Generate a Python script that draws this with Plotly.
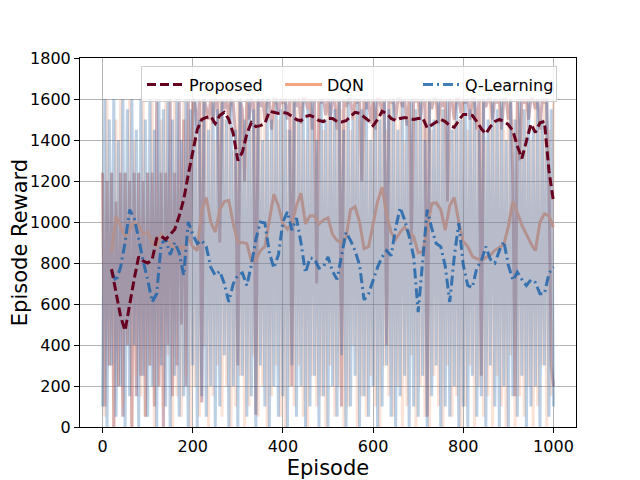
import plotly.graph_objects as go

# ---------------- data ----------------
raw_episodes = list(range(0, 1001, 5))

proposed_raw = [
    1240, 100, 1200, 300, 1240, 0, 1100, 200, 1240, 50, 1240, 400, 1200, 0, 1240, 150, 1240, 250, 1200, 50,
    1240, 300, 1240, 100, 1600, 200, 1240, 0, 1240, 400, 1600, 150, 1240, 300, 1600, 500, 1500, 200, 1600, 900,
    1600, 1580, 1450, 1600, 120, 1600, 1560, 1500, 1600, 1480, 1600, 1590, 900, 1600, 1550, 1600, 1500, 1600, 1580, 1420,
    300, 1600, 1550, 1200, 1600, 1500, 1600, 1580, 60, 1600, 1560, 1600, 1500, 1600, 1590, 1450, 1600, 1600, 1530, 1600,
    1580, 1600, 1500, 1600, 200, 1600, 1560, 1600, 1480, 1600, 1600, 1550, 1600, 1450, 1600, 700, 1600, 1580, 1600, 1520,
    1600, 1500, 1600, 1590, 1450, 1600, 100, 1600, 1560, 1600, 1600, 1500, 1600, 1580, 1600, 1200, 1600, 1550, 1600, 1480,
    1600, 1450, 1600, 1600, 1520, 1600, 400, 1600, 1580, 1600, 1500, 1600, 1600, 1560, 1600, 1470, 1600, 900, 1600, 1590,
    1600, 1500, 1600, 1580, 50, 1600, 1550, 1600, 1600, 1480, 1600, 1560, 1600, 1100, 1600, 1590, 1500, 1600, 1600, 1530,
    1600, 1580, 1600, 1500, 1600, 1600, 1450, 1600, 250, 1600, 1560, 1600, 1600, 1500, 1600, 1580, 1600, 1450, 1600, 1600,
    1500, 1600, 1200, 150, 1600, 1300, 1600, 1580, 1600, 1500, 1600, 1600, 1550, 1600, 1450, 1600, 1580, 1600, 1200, 300,
    200,
]

dqn_raw = [
    1240, 50, 1600, 300, 1240, 0, 1500, 200, 1600, 100, 1240, 400, 1600, 0, 1400, 250, 1240, 150, 1600, 50,
    1240, 300, 1600, 0, 1240, 200, 1500, 100, 1600, 350, 1240, 0, 1600, 150, 1300, 50, 1600, 250, 1500, 0,
    1600, 200, 1450, 50, 1600, 400, 1550, 0, 1600, 150, 1400, 300, 1600, 50, 1500, 200, 1600, 0, 1350, 100,
    1600, 250, 1500, 0, 1600, 100, 1450, 350, 1600, 50, 1550, 200, 1600, 0, 1400, 150, 1600, 300, 1500, 50,
    1600, 0, 1450, 200, 1600, 100, 1550, 300, 1600, 50, 1400, 0, 1600, 250, 1500, 100, 1600, 150, 1450, 0,
    1600, 300, 1500, 50, 1600, 200, 1550, 0, 1600, 100, 1450, 400, 1600, 0, 1500, 150, 1600, 50, 1400, 250,
    1600, 100, 1550, 0, 1600, 300, 1450, 150, 1600, 50, 1500, 200, 1600, 0, 1400, 100, 1600, 350, 1550, 0,
    1600, 200, 1500, 50, 1600, 0, 1450, 250, 1600, 100, 1550, 0, 1600, 300, 1400, 50, 1600, 150, 1500, 0,
    1600, 100, 1450, 300, 1600, 0, 1550, 200, 1600, 50, 1400, 150, 1600, 0, 1500, 250, 1600, 100, 1450, 0,
    1600, 350, 1500, 0, 1600, 150, 1550, 50, 1600, 200, 1400, 0, 1600, 100, 1500, 300, 1600, 0, 1450, 150,
    1600,
]

ql_raw = [
    100, 1600, 0, 1500, 300, 1600, 50, 1400, 200, 1600, 0, 1550, 150, 1600, 400, 1450, 0, 1600, 250, 1500,
    50, 1600, 200, 1450, 0, 1600, 300, 1550, 100, 1600, 0, 1500, 250, 1600, 50, 1400, 150, 1600, 0, 1550,
    300, 1600, 0, 1500, 150, 1600, 50, 1450, 200, 1600, 0, 1550, 100, 1600, 350, 1500, 0, 1600, 200, 1450,
    0, 1600, 250, 1500, 50, 1600, 150, 1550, 0, 1600, 300, 1400, 100, 1600, 0, 1500, 200, 1600, 50, 1550,
    150, 1600, 0, 1450, 300, 1600, 50, 1500, 200, 1600, 0, 1550, 100, 1600, 250, 1400, 0, 1600, 150, 1500,
    0, 1600, 200, 1550, 50, 1600, 350, 1450, 0, 1600, 100, 1500, 250, 1600, 0, 1550, 150, 1600, 50, 1400,
    200, 1600, 0, 1500, 100, 1600, 300, 1550, 50, 1600, 0, 1450, 150, 1600, 250, 1500, 0, 1600, 100, 1550,
    50, 1600, 250, 1400, 0, 1600, 150, 1500, 300, 1600, 0, 1550, 100, 1600, 50, 1450, 200, 1600, 0, 1500,
    100, 1600, 0, 1550, 250, 1600, 50, 1450, 150, 1600, 0, 1500, 300, 1600, 100, 1550, 0, 1600, 200, 1400,
    0, 1600, 150, 1500, 50, 1600, 250, 1550, 0, 1600, 100, 1450, 200, 1600, 0, 1500, 300, 1600, 50, 1550,
    100,
]

smooth_episodes = list(range(20, 1001, 10))

proposed_smooth = [
    770, 660, 540, 470, 600, 720, 830, 810, 800, 815,
    920, 930, 915, 940, 964, 1029, 1110, 1230, 1340, 1450,
    1500, 1510, 1515, 1480, 1520, 1535, 1500, 1430, 1300, 1340,
    1430, 1485, 1465, 1470, 1480, 1540, 1535, 1530, 1535, 1530,
    1515, 1500, 1494, 1515, 1520, 1510, 1495, 1490, 1505, 1505,
    1490, 1488, 1494, 1515, 1535, 1530, 1512, 1495, 1470, 1500,
    1540, 1530, 1505, 1495, 1505, 1510, 1505, 1500, 1505, 1508,
    1458, 1475, 1488, 1500, 1490, 1470, 1462, 1495, 1525, 1525,
    1520, 1490, 1455, 1430, 1465, 1490, 1500, 1490, 1475, 1445,
    1370, 1310, 1400, 1478, 1437, 1484, 1490, 1250, 1100,
]

dqn_smooth = [
    850, 1030, 980, 930, 960, 1000, 985, 940, 950, 900,
    880, 940, 920, 900, 870, 880, 870, 920, 880, 860,
    1060, 1120, 1000, 950, 1060, 1100, 1105, 990, 900, 900,
    895, 810, 815, 860, 880, 1000, 1135, 1080, 990, 965,
    995, 1080, 1140, 990, 1030, 1030, 990, 1010, 1020, 940,
    910, 900, 925, 1060, 1075, 1000, 870, 880, 990, 1100,
    1170, 1035, 950, 915, 950, 975, 948, 930, 850, 855,
    964, 1090, 1094, 1060, 960, 1080, 1120, 1000, 905, 880,
    833, 820, 815, 828, 838, 862, 875, 890, 980, 1100,
    1045, 985, 940, 895, 860, 1000, 1040, 1030, 975,
]

ql_smooth = [
    760, 710, 780, 900, 1060, 1020, 920, 810, 720, 610,
    650, 890, 920, 840, 900, 850, 740, 1000, 940, 895,
    910, 880, 780, 740, 760, 700, 610, 700, 740, 752,
    690, 790, 915, 1000, 995, 850, 775, 840, 1000, 1050,
    960, 1020, 900, 752, 825, 820, 775, 782, 830, 760,
    720, 830, 950, 910, 860, 790, 620, 650, 715, 780,
    830, 860, 835, 970, 1070, 1010, 930, 830, 560, 820,
    1060, 970, 895, 880, 785, 610, 830, 995, 790, 690,
    680, 775, 810, 880, 818, 800, 860, 905, 790, 715,
    755, 720, 690, 718, 705, 650, 650, 750, 780,
]

series_names = ["Proposed", "DQN", "Q-Learning"]
x_ticks = [0, 200, 400, 600, 800, 1000]
y_ticks = [0, 200, 400, 600, 800, 1000, 1200, 1400, 1600, 1800]

# ---------------- styles ----------------
c_prop = "#67001f"
c_dqn = "#f4a582"
c_ql = "#2166ac"
FONT = "DejaVu Sans"
RAW_W = 3
RAW_A = 0.3


def raw_trace(vals, col):
    return go.Scatter(x=raw_episodes, y=vals, mode="lines",
                      line=dict(color=col, width=RAW_W), opacity=RAW_A,
                      showlegend=False, hoverinfo="skip")


fig = go.Figure()
fig.add_trace(raw_trace(proposed_raw, c_prop))
fig.add_trace(raw_trace(dqn_raw, c_dqn))
fig.add_trace(go.Scatter(
    x=smooth_episodes, y=dqn_smooth, mode="lines", name=series_names[1],
    line=dict(color=c_dqn, width=3), legendrank=2))
fig.add_trace(raw_trace(ql_raw, c_ql))
fig.add_trace(go.Scatter(
    x=smooth_episodes, y=ql_smooth, mode="lines", name=series_names[2],
    line=dict(color=c_ql, width=3, dash="10px,4px,2px,4px"), opacity=0.85, legendrank=3))
fig.add_trace(go.Scatter(
    x=smooth_episodes, y=proposed_smooth, mode="lines", name=series_names[0],
    line=dict(color=c_prop, width=3, dash="9px,4px"), legendrank=1))

axis_common = dict(
    showline=True, mirror=True, linecolor="black", linewidth=1,
    ticks="outside", ticklen=5, tickcolor="black", tickwidth=1,
    showgrid=True, gridcolor="rgba(128,128,128,0.6)", gridwidth=1,
    zeroline=False, layer="above traces", automargin=False,
    tickfont=dict(family=FONT, size=16, color="black"),
)

# the page adds an 8px body margin, so the figure is 8px smaller on each axis
fig.update_layout(
    width=632, height=472, autosize=False,
    margin=dict(l=72, r=64, t=50, b=53, pad=0),
    paper_bgcolor="white", plot_bgcolor="white",
    font=dict(family=FONT, color="black"),
    xaxis=dict(range=[-50, 1050], tickvals=x_ticks,
               title=dict(text="Episode", font=dict(family=FONT, size=21), standoff=6),
               **axis_common),
    yaxis=dict(range=[0, 1800], tickvals=y_ticks,
               title=dict(text="Episode Reward", font=dict(family=FONT, size=21), standoff=6),
               **axis_common),
    legend=dict(orientation="h", x=0.123, xanchor="left", y=0.977, yanchor="top",
                bgcolor="rgba(255,255,255,0.8)", bordercolor="#cccccc", borderwidth=1,
                font=dict(family=FONT, size=16, color="black"),
                itemwidth=37, entrywidth=86, entrywidthmode="pixels", traceorder="normal"),
)

fig.write_html("out.html")
